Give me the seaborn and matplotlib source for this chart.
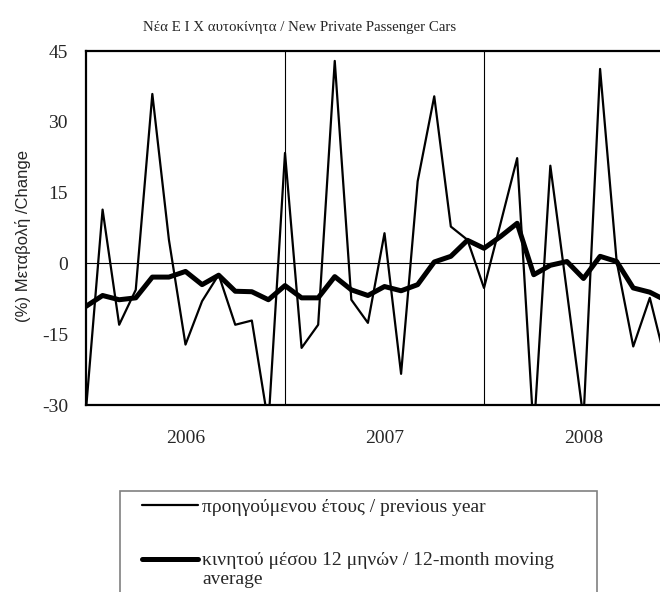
import numpy as np
import pandas as pd
import seaborn as sns
import matplotlib.pyplot as plt
from matplotlib.patches import Rectangle
from matplotlib.legend_handler import HandlerLine2D

sns.set_style("white")
plt.rcParams['font.family'] = ['Liberation Serif', 'DejaVu Serif']
plt.rcParams['axes.unicode_minus'] = False

# monthly data, Jan 2006 .. Dec 2008
years = ["2006", "2007", "2008"]
prev_year = [-31, 11.4, -13.0, -5.6, 35.9, 5.0, -17.2, -8.0, -2.4, -13.0, -12.1, -34.0,
             23.4, -17.9, -13.0, 42.9, -7.7, -12.6, 6.4, -23.4, 17.4, 35.4, 7.8, 5.0,
             -5.2, 8.5, 22.3, -36.0, 20.7, -6.0, -33.0, 41.2, 0.4, -17.6, -7.3, -21.5]
moving_avg = [-9.1, -6.8, -7.7, -7.3, -2.9, -2.9, -1.7, -4.5, -2.5, -5.9, -6.0, -7.7,
              -4.7, -7.3, -7.3, -2.8, -5.6, -6.8, -4.9, -5.8, -4.5, 0.3, 1.5, 4.9,
              3.2, 5.7, 8.5, -2.4, -0.4, 0.4, -3.2, 1.5, 0.4, -5.2, -6.1, -7.9]
yticks = [-30, -15, 0, 15, 30, 45]

lbl_prev = "προηγούμενου έτους / previous year"
lbl_avg = "κινητού μέσου 12 μηνών / 12-month moving\naverage"

df = pd.DataFrame({"month": np.arange(len(prev_year)),
                   lbl_prev: prev_year, lbl_avg: moving_avg})
long = df.melt(id_vars="month", var_name="series", value_name="change")


class FirstLineHandler(HandlerLine2D):
    # put the legend line next to the first text line, like the original
    def __init__(self, dy=0, **kw):
        super().__init__(**kw)
        self.dy = dy

    def create_artists(self, *args, **kw):
        arts = super().create_artists(*args, **kw)
        for a in arts:
            a.set_ydata(np.asarray(a.get_ydata()) + self.dy)
        return arts


W, H = 660, 592
fig = plt.figure(figsize=(W / 100, H / 100), dpi=100)
ax = fig.add_axes([86 / W, 1 - 405 / H, (683 - 86) / W, (405 - 51) / H])

sns.lineplot(data=long, x="month", y="change", hue="series", size="series",
             sizes={lbl_prev: 1.6, lbl_avg: 3.6},
             palette={lbl_prev: "black", lbl_avg: "black"}, ax=ax, legend=True)

ax.set_xlim(0, 12 * len(years))
ax.set_ylim(yticks[0], yticks[-1])
ax.axhline(0, color="black", lw=0.8, zorder=1)
for k in range(1, len(years)):
    ax.axvline(12 * k, color="black", lw=0.8, zorder=1)

ax.set_yticks(yticks)
ax.set_yticklabels([str(t) for t in yticks], fontsize=14)
ax.set_xticks([12 * k + 6 for k in range(len(years))])
ax.set_xticklabels(years, fontsize=14)
ax.tick_params(axis="y", direction="in", length=6, width=1, pad=13)
ax.tick_params(axis="x", length=0, pad=18)
ax.set_xlabel("")
ax.set_ylabel("")

for s in ["left", "bottom", "top"]:
    ax.spines[s].set_linewidth(1.6)
    ax.spines[s].set_color("black")
ax.spines["right"].set_visible(False)

fig.text(300 / W, 1 - 27 / H, "Νέα Ε Ι Χ αυτοκίνητα / New Private Passenger Cars",
         ha="center", va="center", fontsize=10.7)
fig.text(23 / W, 1 - 236 / H, "(%) Μεταβολή /Change", rotation=90,
         ha="center", va="center", fontsize=12,
         family=["Liberation Sans", "DejaVu Sans"])

handles, labels = ax.get_legend_handles_labels()
ax.get_legend().remove()
fig.patches.append(Rectangle((120 / W, -0.05), (597 - 120) / W, 0.05 + 1 - 491 / H,
                             transform=fig.transFigure, fill=False,
                             edgecolor="#808080", lw=1.2))
fig.legend(handles, labels, loc="upper left", bbox_to_anchor=(142 / W, 1 - 498 / H),
           frameon=False, fontsize=14, handlelength=2.9, handletextpad=0.2,
           borderpad=0, borderaxespad=0, labelspacing=1.85,
           handler_map={handles[1]: FirstLineHandler(dy=7.5)})

plt.savefig("out.png", dpi=100)
